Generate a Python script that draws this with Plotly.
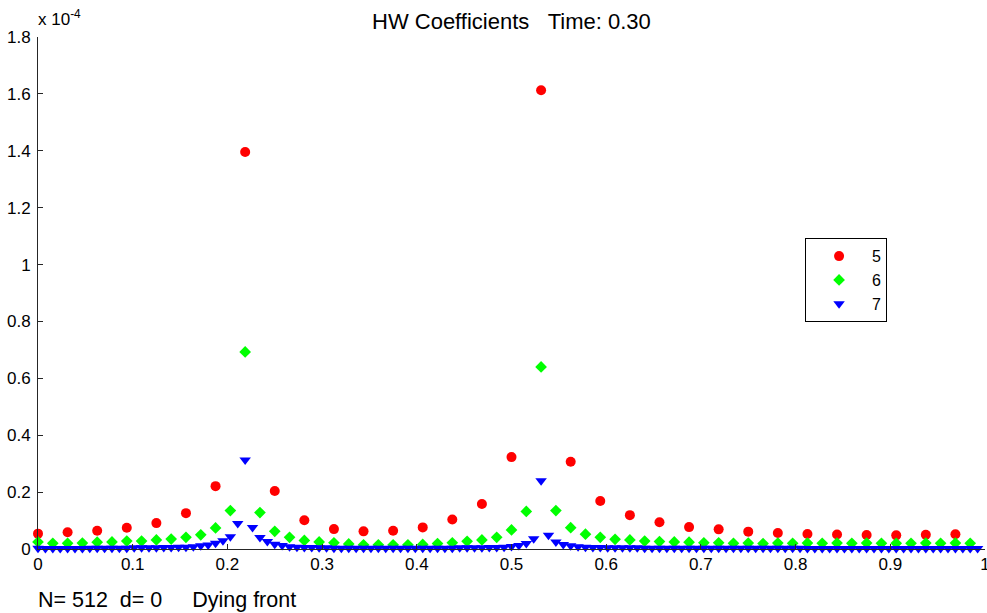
import plotly.graph_objects as go

# Haar-wavelet coefficient magnitudes (units of 1e-4) at three dyadic levels.
# Positions on each level are the dyadic grid k / 2**level.
level5_values = [
    0.054, 0.059, 0.064, 0.075, 0.091, 0.126, 0.221, 1.396,
    0.204, 0.101, 0.070, 0.062, 0.064, 0.076, 0.104, 0.158,
    0.323, 1.613, 0.307, 0.169, 0.119, 0.094, 0.077, 0.069,
    0.061, 0.056, 0.053, 0.051, 0.049, 0.048, 0.050, 0.052,
]

level6_values = [
    0.025, 0.020, 0.020, 0.021, 0.024, 0.025, 0.028, 0.028,
    0.032, 0.035, 0.041, 0.050, 0.074, 0.135, 0.693, 0.128,
    0.062, 0.041, 0.030, 0.025, 0.022, 0.018, 0.015, 0.015,
    0.015, 0.015, 0.016, 0.019, 0.022, 0.027, 0.032, 0.041,
    0.067, 0.132, 0.640, 0.135, 0.075, 0.052, 0.041, 0.034,
    0.032, 0.028, 0.026, 0.025, 0.024, 0.022, 0.022, 0.020,
    0.021, 0.019, 0.021, 0.020, 0.021, 0.020, 0.021, 0.020,
    0.021, 0.020, 0.020, 0.020, 0.021, 0.020, 0.021, 0.020,
]

level7_values = [
    0.003, 0.002, 0.002, 0.002, 0.002, 0.002, 0.002, 0.003,
    0.003, 0.003, 0.003, 0.003, 0.003, 0.004, 0.004, 0.004,
    0.004, 0.005, 0.005, 0.006, 0.006, 0.008, 0.011, 0.014,
    0.020, 0.029, 0.043, 0.090, 0.313, 0.076, 0.040, 0.026,
    0.017, 0.012, 0.008, 0.006, 0.005, 0.005, 0.004, 0.004,
    0.003, 0.003, 0.003, 0.003, 0.003, 0.003, 0.003, 0.003,
    0.003, 0.003, 0.003, 0.003, 0.003, 0.003, 0.003, 0.003,
    0.003, 0.004, 0.004, 0.004, 0.004, 0.005, 0.005, 0.006,
    0.009, 0.012, 0.019, 0.036, 0.240, 0.048, 0.025, 0.016,
    0.011, 0.008, 0.006, 0.005, 0.005, 0.004, 0.004, 0.004,
    0.004, 0.004, 0.003, 0.003, 0.003, 0.003, 0.003, 0.003,
    0.003, 0.003, 0.003, 0.003, 0.003, 0.003, 0.003, 0.003,
    0.003, 0.003, 0.003, 0.003, 0.003, 0.003, 0.003, 0.003,
    0.002, 0.002, 0.002, 0.002, 0.002, 0.002, 0.002, 0.002,
    0.002, 0.002, 0.002, 0.002, 0.002, 0.002, 0.002, 0.002,
    0.002, 0.002, 0.002, 0.002, 0.002, 0.002, 0.002, 0.002,
]

levels = [
    ("5", 5, level5_values, "#ff0000", "circle", 10),
    ("6", 6, level6_values, "#00ff00", "diamond", 9),
    ("7", 7, level7_values, "#0000ff", "triangle-down", 10),
]

x_ticks = [0, 0.1, 0.2, 0.3, 0.4, 0.5, 0.6, 0.7, 0.8, 0.9, 1]
y_ticks = [0, 0.2, 0.4, 0.6, 0.8, 1, 1.2, 1.4, 1.6, 1.8]

FONT = "Liberation Sans, Arial, Helvetica, sans-serif"
AXIS_COLOR = "#262626"

fig = go.Figure()
for name, lev, vals, color, symbol, size in levels:
    n = 2 ** lev
    fig.add_trace(go.Scatter(
        x=[k / n for k in range(len(vals))],
        y=vals,
        mode="markers",
        name=name,
        cliponaxis=False,
        marker=dict(color=color, symbol=symbol, size=size, line=dict(width=0)),
    ))

axis_common = dict(
    showgrid=False, zeroline=False, showline=True, linecolor=AXIS_COLOR,
    linewidth=1, ticks="inside", ticklen=5, tickcolor=AXIS_COLOR, mirror=False,
    tickfont=dict(family=FONT, size=17, color="#000000"),
    ticklabeloverflow="allow", automargin=False,
)

fig.update_layout(
    width=987, height=613,
    margin=dict(l=38, r=2, t=37, b=64),
    paper_bgcolor="white", plot_bgcolor="white",
    font=dict(family=FONT, color="#000000"),
    xaxis=dict(range=[0, 1], tickvals=x_ticks, **axis_common),
    yaxis=dict(range=[0, 1.8], tickvals=y_ticks, ticklabelstandoff=3, **axis_common),
    showlegend=True,
    legend=dict(
        x=0.81, y=0.607, xanchor="left", yanchor="top",
        bgcolor="white", bordercolor="#000000", borderwidth=1,
        font=dict(family=FONT, size=16, color="#000000"),
        itemwidth=56,
    ),
    annotations=[
        dict(text="HW Coefficients\u00a0\u00a0\u00a0Time: 0.30", xref="paper", yref="paper",
             x=0.5, y=1.031, xanchor="center", yanchor="middle", showarrow=False,
             font=dict(family=FONT, size=22, color="#000000")),
        dict(text="x 10<sup>-4</sup>", xref="paper", yref="paper",
             x=-0.002, y=1.037, xanchor="left", yanchor="middle", showarrow=False,
             font=dict(family=FONT, size=17, color="#000000")),
        dict(text="N= 512\u00a0\u00a0d= 0\u00a0\u00a0\u00a0\u00a0\u00a0Dying front",
             xref="paper", yref="paper", x=-0.002, y=-0.0996,
             xanchor="left", yanchor="middle", showarrow=False,
             font=dict(family=FONT, size=21.5, color="#000000")),
    ],
)

fig.write_html("out.html")
